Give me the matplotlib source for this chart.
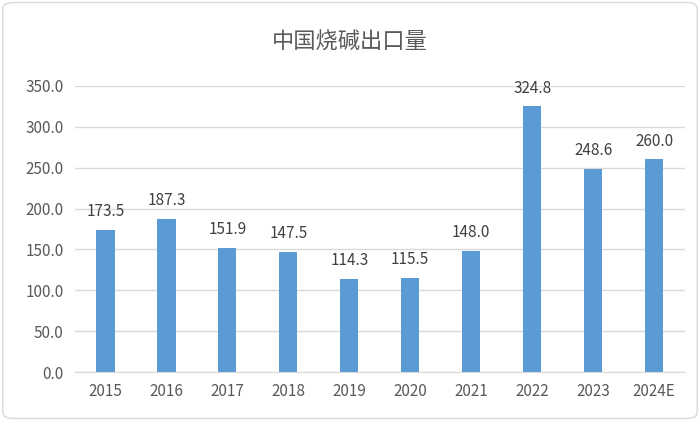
import matplotlib
matplotlib.use("Agg")
import matplotlib.pyplot as plt
from matplotlib.patches import FancyBboxPatch

plt.rcParams['font.family'] = ['Noto Sans CJK SC', 'DejaVu Sans']

years = ["2015", "2016", "2017", "2018", "2019", "2020", "2021", "2022", "2023", "2024E"]
values = [173.5, 187.3, 151.9, 147.5, 114.3, 115.5, 148.0, 324.8, 248.6, 260.0]
yticks = [0, 50, 100, 150, 200, 250, 300, 350]

fig = plt.figure(figsize=(7.0, 4.21), dpi=100)
fig.patches.append(FancyBboxPatch((0.004, 0.006), 0.992, 0.988, boxstyle="round,pad=0,rounding_size=0.015",
                                  transform=fig.transFigure, fc="white", ec="#D9D9D9", lw=1, zorder=-10))
ax = fig.add_axes([0.107, 0.116, 0.871, 0.68])
ax.set_facecolor("none")
x = range(len(years))
ax.bar(x, values, width=0.3, color="#5B9BD5", zorder=2)
for xi, v in zip(x, values):
    ax.text(xi, v + 12, f"{v:.1f}", ha="center", va="bottom", fontsize=11, color="#404040")
ax.set_ylim(0, 350)
ax.set_xlim(-0.5, len(years) - 0.5)
ax.set_yticks(yticks)
ax.set_yticklabels([f"{t:.1f}" for t in yticks])
ax.set_xticks(list(x))
ax.set_xticklabels(years)
ax.tick_params(axis="both", length=0, labelsize=11, labelcolor="#595959", pad=8)
ax.grid(axis="y", color="#D9D9D9", lw=1, zorder=0)
for s in ["top", "right", "left"]:
    ax.spines[s].set_visible(False)
ax.spines["bottom"].set_color("#D9D9D9")
fig.text(0.5, 0.9, "中国烧碱出口量", ha="center", va="center", fontsize=16, color="#595959")
fig.savefig("out.png", dpi=100)
